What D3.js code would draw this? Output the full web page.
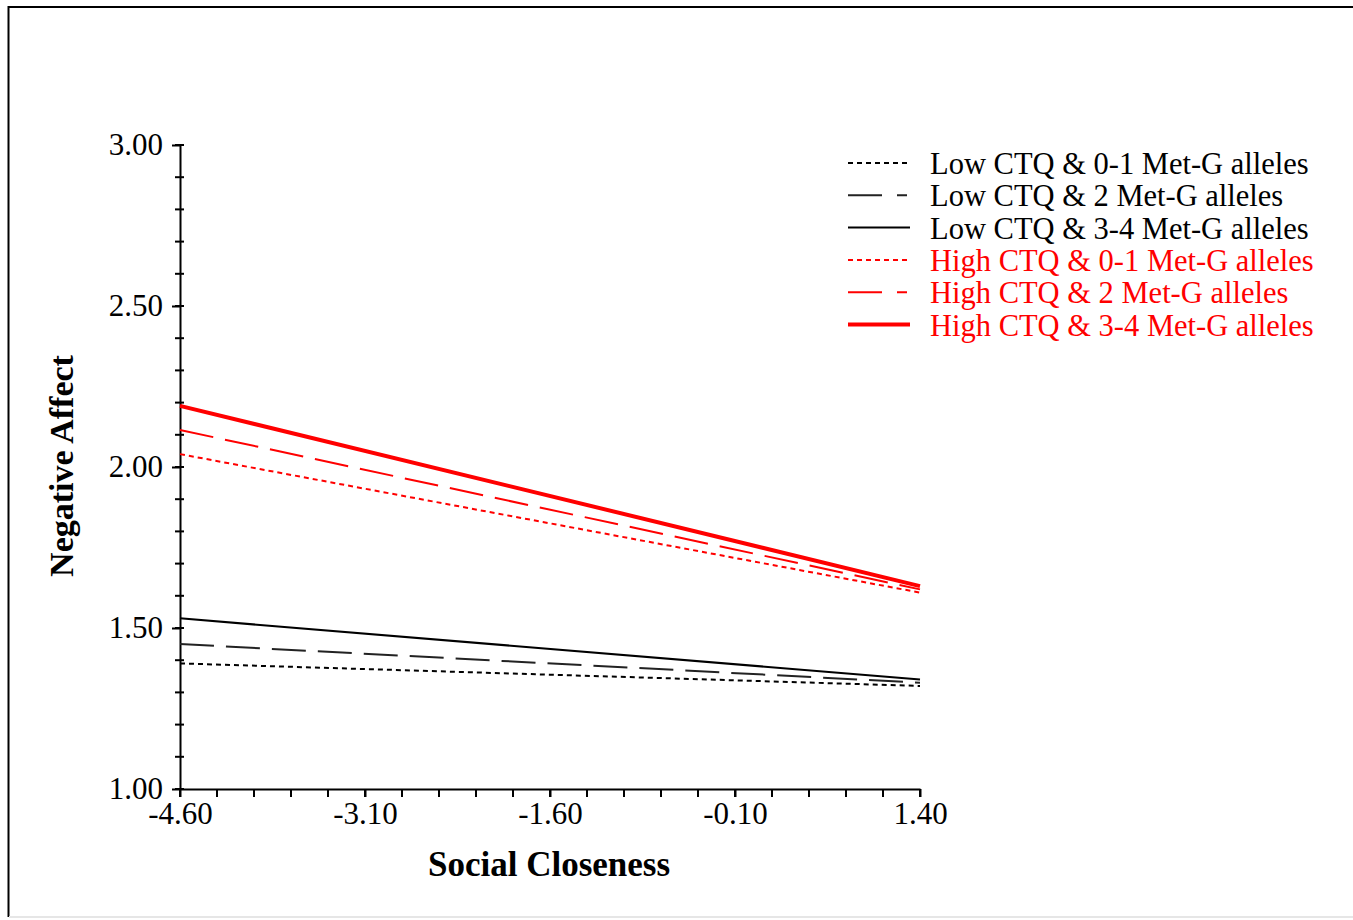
<!DOCTYPE html>
<html>
<head>
<meta charset="utf-8">
<script src="https://cdn.jsdelivr.net/npm/d3@7"></script>
<style>
  body { margin: 0; background: #fff; }
  svg { display: block; }
  .axis text { font-family: "Liberation Serif", "Times New Roman", serif; font-size: 31px; fill: #000; }
  .axis path, .axis line { stroke: #000; }
</style>
</head>
<body>
<svg width="1353" height="920"></svg>
<script>
// x positions where every fitted line is evaluated
var xValues = [-4.60, 1.40];
var xTicks = [-4.60, -3.10, -1.60, -0.10, 1.40];
var yTicks = [1.00, 1.50, 2.00, 2.50, 3.00];

var seriesNames = [
    'Low CTQ & 0-1 Met-G alleles',
    'Low CTQ & 2 Met-G alleles',
    'Low CTQ & 3-4 Met-G alleles',
    'High CTQ & 0-1 Met-G alleles',
    'High CTQ & 2 Met-G alleles',
    'High CTQ & 3-4 Met-G alleles'
];
// negative affect at x = -4.60 and x = 1.40
var lowMet01 = [1.39, 1.32];
var lowMet2 = [1.45, 1.33];
var lowMet34 = [1.53, 1.34];
var highMet01 = [2.04, 1.61];
var highMet2 = [2.115, 1.62];
var highMet34 = [2.19, 1.63];

var seriesValues = [lowMet01, lowMet2, lowMet34, highMet01, highMet2, highMet34];
var seriesColor = ['#000', '#222', '#000', '#ff0000', '#ff0000', '#ff0000'];
var seriesWidth = [2, 2, 2, 2, 2, 4];
var seriesDash = ['5,4', '34,12', null, '5,4', '34,12', null];
var legendDash = ['5,4', '34,15,10,100', null, '5,4', '34,15,10,100', null];

var svg = d3.select('svg');

// outer frame like the source screenshot
svg.append('line').attr('x1', 8.5).attr('y1', 6).attr('x2', 8.5).attr('y2', 917)
    .attr('stroke', '#000').attr('stroke-width', 2);
svg.append('line').attr('x1', 8).attr('y1', 7).attr('x2', 1353).attr('y2', 7)
    .attr('stroke', '#000').attr('stroke-width', 2);
svg.append('line').attr('x1', 9).attr('y1', 917).attr('x2', 1353).attr('y2', 917)
    .attr('stroke', '#e6e6e6').attr('stroke-width', 2);

var xScale = d3.scaleLinear().domain([-4.60, 1.40]).range([180, 920]);
var yScale = d3.scaleLinear().domain([1.00, 3.00]).range([789, 145]);

// minor ticks
var xMinor = d3.range(0, 21).map(function(i) { return -4.60 + i * 0.3; });
var yMinor = d3.range(0, 21).map(function(i) { return 1.00 + i * 0.1; });

svg.append('g').selectAll('line').data(xMinor).enter().append('line')
    .attr('x1', function(d) { return xScale(d); })
    .attr('x2', function(d) { return xScale(d); })
    .attr('y1', 789).attr('y2', 797)
    .attr('stroke', '#000').attr('stroke-width', 2);

svg.append('g').selectAll('line').data(yMinor).enter().append('line')
    .attr('y1', function(d) { return yScale(d); })
    .attr('y2', function(d) { return yScale(d); })
    .attr('x1', 175).attr('x2', 184)
    .attr('stroke', '#000').attr('stroke-width', 2);

var xAxisG = svg.append('g').attr('class', 'axis')
    .attr('transform', 'translate(0,789)')
    .call(d3.axisBottom(xScale).tickValues(xTicks).tickSize(8).tickSizeOuter(0)
        .tickPadding(5).tickFormat(d3.format('.2f')));
var yAxisG = svg.append('g').attr('class', 'axis')
    .attr('transform', 'translate(180,0)')
    .call(d3.axisLeft(yScale).tickValues(yTicks).tickSize(8).tickSizeOuter(0)
        .tickPadding(9).tickFormat(d3.format('.2f')));
svg.selectAll('.axis path, .axis line').attr('stroke-width', 2);
svg.selectAll('.axis text').text(function() { return this.textContent.replace('−', '-'); });

// axis titles
svg.append('text')
    .attr('x', 549).attr('y', 876)
    .attr('text-anchor', 'middle')
    .style('font-family', '"Liberation Serif", "Times New Roman", serif')
    .style('font-size', '35px').style('font-weight', 'bold')
    .text('Social Closeness');
svg.append('text')
    .attr('transform', 'translate(73,466) rotate(-90)')
    .attr('text-anchor', 'middle')
    .style('font-family', '"Liberation Serif", "Times New Roman", serif')
    .style('font-size', '34px').style('font-weight', 'bold')
    .text('Negative Affect');

// lines
var line = d3.line()
    .x(function(d, i) { return xScale(xValues[i]); })
    .y(function(d) { return yScale(d); });

svg.append('g').selectAll('path').data(seriesValues).enter().append('path')
    .attr('d', line)
    .attr('fill', 'none')
    .attr('stroke', function(d, i) { return seriesColor[i]; })
    .attr('stroke-width', function(d, i) { return seriesWidth[i]; })
    .attr('stroke-dasharray', function(d, i) { return seriesDash[i]; });

// legend
var legendG = svg.append('g').attr('transform', 'translate(848,163)');
var rows = legendG.selectAll('g').data(seriesNames).enter().append('g')
    .attr('transform', function(d, i) { return 'translate(0,' + (i * 32.3) + ')'; });
rows.append('line')
    .attr('x1', 0).attr('x2', 62).attr('y1', 0).attr('y2', 0)
    .attr('stroke', function(d, i) { return seriesColor[i]; })
    .attr('stroke-width', function(d, i) { return seriesWidth[i]; })
    .attr('stroke-dasharray', function(d, i) { return legendDash[i]; });
rows.append('text')
    .attr('x', 82).attr('y', 11)
    .style('font-family', '"Liberation Serif", "Times New Roman", serif')
    .style('font-size', '30.5px')
    .attr('fill', function(d, i) { return i < 3 ? '#000' : '#ff0000'; })
    .text(function(d) { return d; });
</script>
</body>
</html>
